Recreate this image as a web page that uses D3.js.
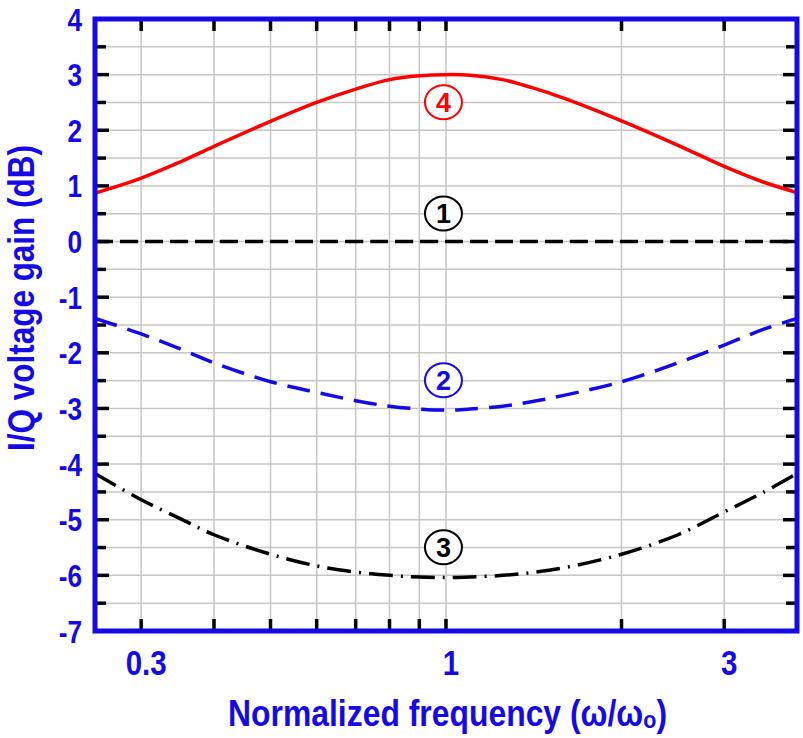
<!DOCTYPE html>
<html>
<head>
<meta charset="utf-8">
<script src="https://cdn.jsdelivr.net/npm/d3@7"></script>
<style>
  body { margin: 0; background: #fff; }
  text { font-family: "Liberation Sans", Arial, sans-serif; font-weight: bold; }
</style>
</head>
<body>
<svg id="svg" width="803" height="738"></svg>
<script>
// values (dB) at each normalized frequency
const freqs = [0.25, 0.3, 0.35, 0.4, 0.5, 0.6, 0.7, 0.8, 0.9, 1, 1.1, 1.25, 1.4, 1.6, 2, 2.5, 3, 3.5, 4];
const gain1 = [0, 0, 0, 0, 0, 0, 0, 0, 0, 0, 0, 0, 0, 0, 0, 0, 0, 0, 0];
const gain2 = [-1.38, -1.66, -1.93, -2.18, -2.52, -2.71, -2.86, -2.96, -3.01, -3.03, -3.01, -2.96, -2.88, -2.76, -2.52, -2.18, -1.86, -1.58, -1.38];
const gain3 = [-4.17, -4.64, -4.98, -5.27, -5.62, -5.83, -5.94, -6.00, -6.03, -6.04, -6.03, -6.00, -5.95, -5.86, -5.62, -5.27, -4.86, -4.51, -4.17];
const gain4 = [0.87, 1.14, 1.43, 1.71, 2.16, 2.50, 2.74, 2.91, 2.98, 3.00, 2.99, 2.91, 2.77, 2.57, 2.17, 1.73, 1.35, 1.07, 0.88];

const xTicks = [0.3, 0.4, 0.5, 0.6, 0.7, 0.8, 0.9, 1, 2, 3];
const xLabels = [0.3, 1, 3];
const yTicks = d3.range(-6.5, 4, 0.5);
const yLabels = d3.range(-7, 5, 1);

const curveLabels = ['1', '2', '3', '4'];
const labelGain = [0.5, -2.5, -5.5, 2.5];

const blue = '#1609e8';
const svg = d3.select('#svg');

const pLeft = 95, pRight = 797, pTop = 19, pBottom = 631;

const x = d3.scaleLog().domain([0.25, 4]).range([pLeft, pRight]);
const y = d3.scaleLinear().domain([-7, 4]).range([pBottom, pTop]);

// grid
svg.append('g').selectAll('line')
  .data(xTicks)
  .join('line')
  .attr('x1', d => x(d)).attr('x2', d => x(d))
  .attr('y1', pTop).attr('y2', pBottom)
  .attr('stroke', '#c6c6c6').attr('stroke-width', 1.5);

svg.append('g').selectAll('line')
  .data(yTicks)
  .join('line')
  .attr('x1', pLeft).attr('x2', pRight)
  .attr('y1', d => y(d)).attr('y2', d => y(d))
  .attr('stroke', '#c6c6c6').attr('stroke-width', 1.5);

// tick marks
const tickG = svg.append('g').attr('stroke', '#000').attr('stroke-width', 3.5);
tickG.selectAll('.tb')
  .data(xTicks)
  .join('line')
  .attr('class', 'tb')
  .attr('x1', d => x(d)).attr('x2', d => x(d))
  .attr('y1', pBottom).attr('y2', pBottom - 12);
tickG.selectAll('.tt')
  .data(xTicks)
  .join('line')
  .attr('class', 'tt')
  .attr('x1', d => x(d)).attr('x2', d => x(d))
  .attr('y1', pTop).attr('y2', pTop + 12);
tickG.selectAll('.tl')
  .data(yTicks)
  .join('line')
  .attr('class', 'tl')
  .attr('x1', pLeft).attr('x2', d => pLeft + (d % 1 === 0 ? 14 : 11))
  .attr('y1', d => y(d)).attr('y2', d => y(d));
tickG.selectAll('.tr')
  .data(yTicks)
  .join('line')
  .attr('class', 'tr')
  .attr('x1', pRight).attr('x2', d => pRight - (d % 1 === 0 ? 14 : 11))
  .attr('y1', d => y(d)).attr('y2', d => y(d));

// curves
const line = d3.line()
  .x(d => x(d[0]))
  .y(d => y(d[1]))
  .curve(d3.curveCatmullRom.alpha(0.5));

const series = [
  { vals: gain1, color: '#000', dash: '18,7' },
  { vals: gain2, color: blue, dash: '23,11' },
  { vals: gain3, color: '#000', dash: '24,8,2,8' },
  { vals: gain4, color: '#ff0000', dash: null }
];

svg.append('g').selectAll('path')
  .data(series)
  .join('path')
  .attr('d', s => line(freqs.map((f, i) => [f, s.vals[i]])))
  .attr('fill', 'none')
  .attr('stroke', s => s.color)
  .attr('stroke-width', 3.5)
  .attr('stroke-dasharray', s => s.dash);

// circled curve numbers
const marks = svg.append('g').selectAll('g')
  .data(curveLabels)
  .join('g')
  .attr('transform', (d, i) => `translate(${x(0.99)},${y(labelGain[i]) - 0.3})`);

marks.append('ellipse')
  .attr('rx', 18.5).attr('ry', 17)
  .attr('fill', '#fff')
  .attr('stroke', (d, i) => series[i].color)
  .attr('stroke-width', 2);

marks.append('text')
  .text(d => d)
  .attr('text-anchor', 'middle')
  .attr('y', 9.5)
  .attr('font-size', 27)
  .attr('fill', (d, i) => series[i].color);

// frame
svg.append('rect')
  .attr('x', pLeft).attr('y', pTop)
  .attr('width', pRight - pLeft).attr('height', pBottom - pTop)
  .attr('fill', 'none')
  .attr('stroke', blue)
  .attr('stroke-width', 5);

// tick labels
svg.append('g').selectAll('text')
  .data(xLabels)
  .join('text')
  .text(d => d)
  .attr('transform', d => `translate(${x(d) + 5},675) scale(0.82,1)`)
  .attr('text-anchor', 'middle')
  .attr('font-size', 36)
  .attr('fill', blue);

svg.append('g').selectAll('text')
  .data(yLabels)
  .join('text')
  .text(d => d)
  .attr('transform', d => `translate(82,${y(d) + 11.5}) scale(0.82,1)`)
  .attr('text-anchor', 'end')
  .attr('font-size', 32)
  .attr('fill', blue);

// axis titles
svg.append('text')
  .text('Normalized frequency (ω/ωₒ)')
  .attr('x', 228).attr('y', 726)
  .attr('font-size', 36)
  .attr('fill', blue)
  .attr('textLength', 439)
  .attr('lengthAdjust', 'spacingAndGlyphs');

svg.append('text')
  .text('I/Q voltage gain (dB)')
  .attr('transform', 'translate(34,451) rotate(-90)')
  .attr('font-size', 37)
  .attr('fill', blue)
  .attr('textLength', 306)
  .attr('lengthAdjust', 'spacingAndGlyphs');
</script>
</body>
</html>
